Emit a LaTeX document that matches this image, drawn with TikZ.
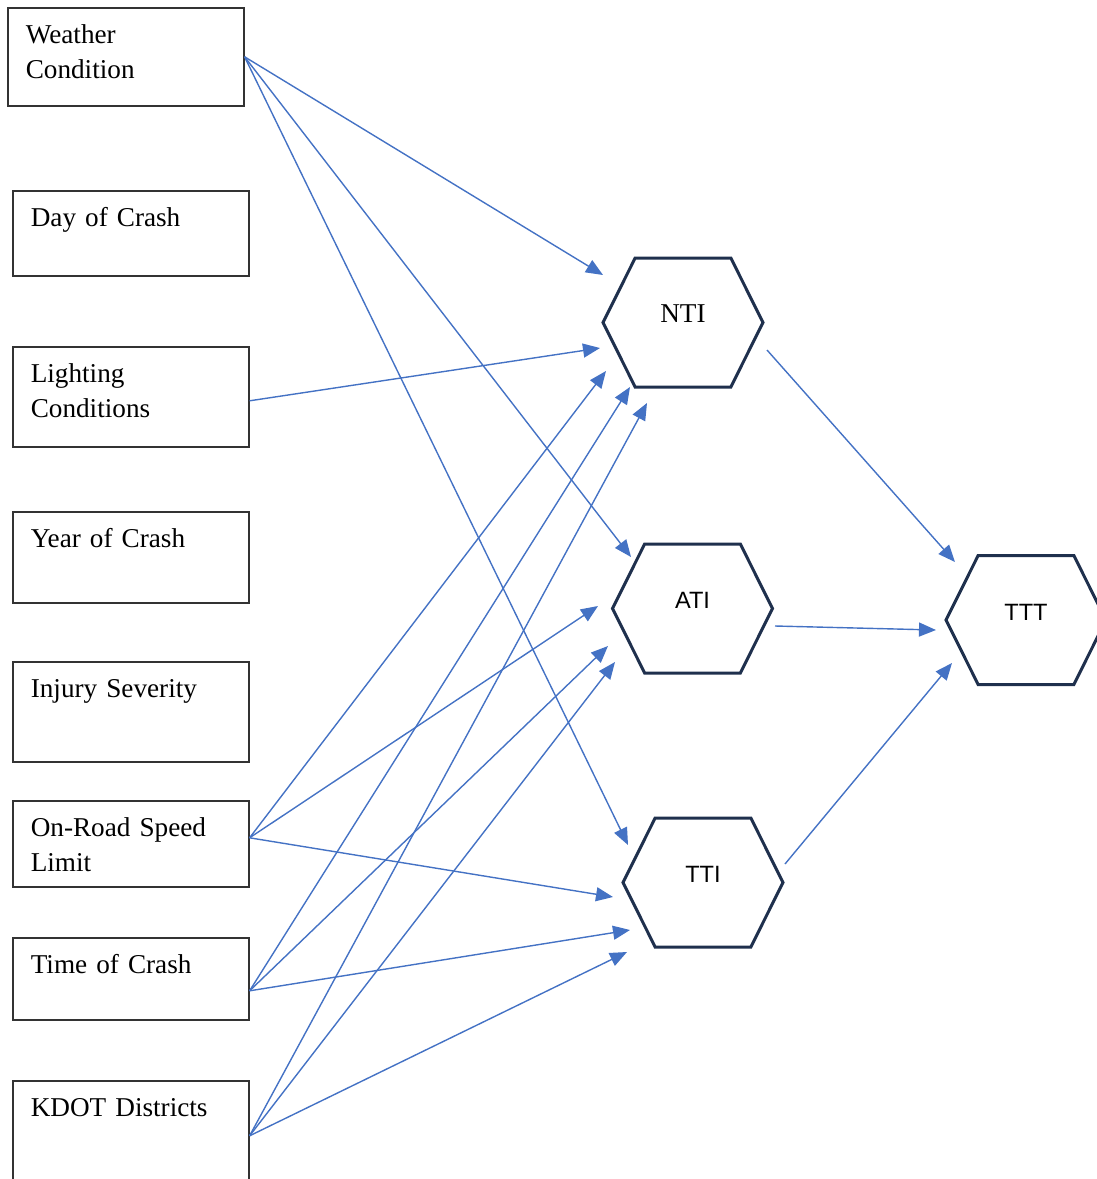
\documentclass[tikz,border=0pt]{standalone}
\usepackage{fontspec}
\setmainfont{Liberation Serif}
\setsansfont{Liberation Sans}
\usepackage{tikz}
\usetikzlibrary{arrows.meta,%
                shapes.symbols}
\definecolor{linkblue}{RGB}{68,114,196}
\definecolor{hexnavy}{RGB}{31,48,77}

\begin{document}
\begin{tikzpicture}[x=0.5pt,y=-0.5pt,
  factor/.style={draw=black!80,line width=0.8pt,anchor=north west,align=left,
    text width=100pt,inner xsep=9pt,inner ysep=0pt,text height=18pt,text depth=#1,
    font=\fontsize{13.6}{17.5}\selectfont},
  hexa/.style={shape=signal,signal to=west and east,signal pointer angle=127,
    draw=hexnavy,line width=1.5pt,minimum width=80pt,minimum height=64.5pt,
    inner sep=0pt,text height=9pt,text depth=9pt,font=\sffamily\fontsize{11.8}{14}\selectfont},
  link/.style={draw=linkblue,line width=0.7pt,-{Triangle[length=8.5pt,width=7pt]}}]
\useasboundingbox (0,0) rectangle (1097,1179);
\node[factor=31pt] (weather) at (7,7) {Weather\\Condition};
\node[factor=24.5pt] (day) at (12,190) {Day of Crash};
\node[factor=32pt] (light) at (12,346) {Lighting\\Conditions};
\node[factor=27.5pt] (year) at (12,511) {Year of Crash};
\node[factor=32pt] (injury) at (12,661) {Injury Severity};
\node[factor=25pt] (road) at (12,800) {On-Road Speed\\Limit};
\node[factor=23pt] (time) at (12,937) {Time of Crash};
\node[factor=37pt] (kdot) at (12,1080) {KDOT Districts};
\node[hexa,font=\rmfamily\fontsize{13.6}{16}\selectfont] (NTI) at (683,322.5) {NTI};
\node[hexa] (ATI) at (692.5,608.5) {ATI};
\node[hexa] (TTI) at (703,882.5) {TTI};
\node[hexa] (TTT) at (1026,620) {TTT};
\draw[link] (weather.east) -- ([shift={(-80,-47.5)}]NTI.center);
\draw[link] (weather.east) -- ([shift={(-61.5,-51.5)}]ATI.center);
\draw[link] (weather.east) -- ([shift={(-75,-37.5)}]TTI.center);
\draw[link] ([yshift=-2pt]light.east) -- ([shift={(-83,25.5)}]NTI.center);
\draw[link] ([yshift=3pt]road.east) -- ([shift={(-77,48.5)}]NTI.center);
\draw[link] ([yshift=3pt]road.east) -- ([shift={(-94.5,-2.5)}]ATI.center);
\draw[link] ([yshift=3pt]road.east) -- ([shift={(-90,14.5)}]TTI.center);
\draw[link] ([yshift=-6pt]time.east) -- ([shift={(-53,64.5)}]NTI.center);
\draw[link] ([yshift=-6pt]time.east) -- ([shift={(-84.5,37.5)}]ATI.center);
\draw[link] ([yshift=-6pt]time.east) -- ([shift={(-73,47.5)}]TTI.center);
\draw[link] (kdot.east) -- ([shift={(-36,80.5)}]NTI.center);
\draw[link] (kdot.east) -- ([shift={(-77.5,53.5)}]ATI.center);
\draw[link] (kdot.east) -- ([shift={(-76,69.5)}]TTI.center);
\draw[link] ([shift={(84,27.5)}]NTI.center) -- ([shift={(-71,-58)}]TTT.center);
\draw[link] ([shift={(82.5,17.5)}]ATI.center) -- ([shift={(-90,10)}]TTT.center);
\draw[link] ([shift={(82,-18.5)}]TTI.center) -- ([shift={(-74,43)}]TTT.center);
\end{tikzpicture}
\end{document}
